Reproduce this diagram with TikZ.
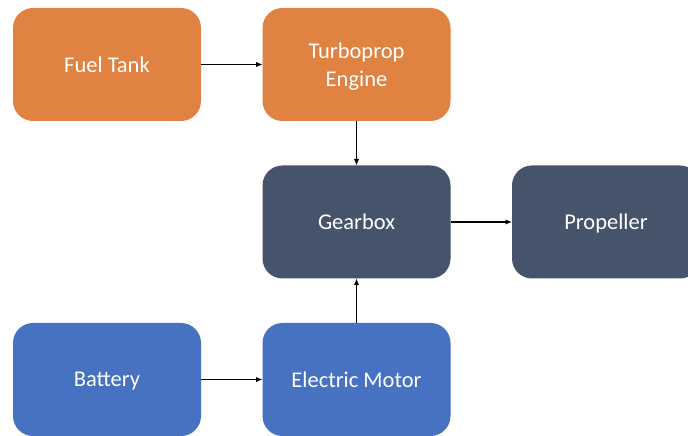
\documentclass[tikz,border=0pt]{standalone}
\usepackage{fontspec}
\setmainfont{Carlito}
\usetikzlibrary{arrows.meta}
\definecolor{fuelorange}{RGB}{224,130,66}
\definecolor{driveslate}{RGB}{69,84,106}
\definecolor{motorblue}{RGB}{70,114,193}

\begin{document}
\begin{tikzpicture}[x = 1pt, y = 1pt,
  block/.style = {rounded corners = 20pt, minimum width = 188pt, minimum height = 113pt, inner sep = 0pt, outer sep = 0pt, text depth = 0pt, text = white, align = center, font = \fontsize{22.5}{28}\selectfont},
  flow/.style = {-{Latex[length = 6.5pt, width = 5.5pt]}, line width = 1.6pt}]
\useasboundingbox[fill = white] (0,0) rectangle (688,436);
% top row
\node[block, fill = fuelorange] (fuel) at (107,371.5) {Fuel Tank};
\node[block, fill = fuelorange] (turbo) at (356.5,371.5) {Turboprop\\Engine};
% middle row
\node[block, fill = driveslate] (gear) at (356.5,214) {Gearbox};
\node[block, fill = driveslate] (prop) at (606,214) {Propeller};
% bottom row
\node[block, fill = motorblue] (battery) at (107,56.5) {Battery};
\node[block, fill = motorblue] (motor) at (356.5,56.5) {Electric Motor};
\draw[flow] (fuel) -- (turbo);
\draw[flow] (turbo) -- (gear);
\draw[flow] (gear) -- (prop);
\draw[flow] (battery) -- (motor);
\draw[flow] (motor) -- (gear);
\end{tikzpicture}
\end{document}
